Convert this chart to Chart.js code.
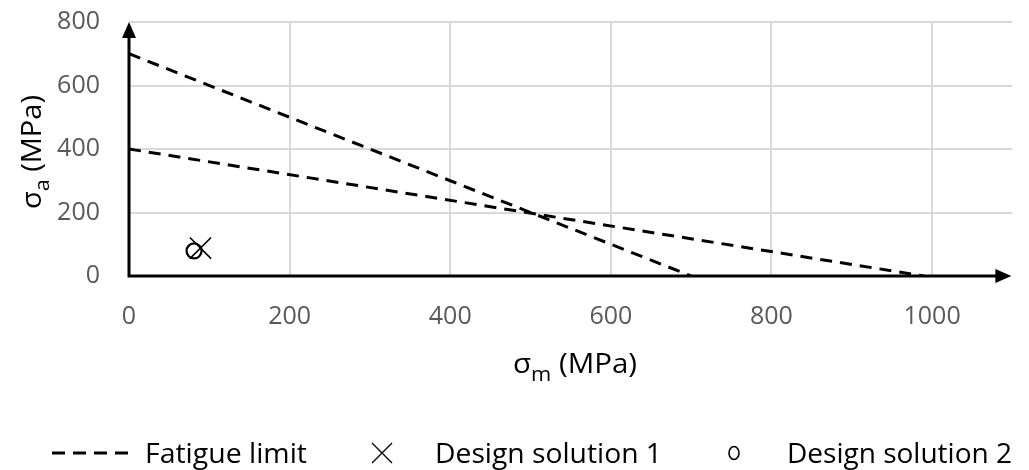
<!DOCTYPE html>
<html>
<head>
<meta charset="utf-8">
<script src="https://cdn.jsdelivr.net/npm/chart.js@4/dist/chart.umd.min.js"></script>
<style>
  html, body { margin: 0; padding: 0; background: #fff; }
  #wrap { width: 1029px; height: 470px; }
</style>
</head>
<body>
<div id="wrap"><canvas id="chart" width="1029" height="470"></canvas></div>
<script>
// tick labels
var X_TICKS = [0, 200, 400, 600, 800, 1000];
var Y_TICKS = [0, 200, 400, 600, 800];

// fatigue limit lines (sigma_m, sigma_a)
var LIMIT1_X = [0, 700];
var LIMIT1_Y = [700, 0];
var LIMIT2_X = [0, 990];
var LIMIT2_Y = [400, 0];

// design points
var SOL1_X = [89];
var SOL1_Y = [88];
var SOL2_X = [81];
var SOL2_Y = [79];

var FONT = '"Open Sans", sans-serif';
var GREY = '#595959';

function toPoints(xs, ys) {
    var pts = [];
    for (var i = 0; i < xs.length; i++) {
        pts.push({ x: xs[i], y: ys[i] });
    }
    return pts;
}

// testo composto (pezzi con font diversi) stirato fino a una larghezza data
function fitText(ctx, parts, x, y, targetW) {
    var total = 0;
    parts.forEach(function (p) {
        ctx.font = p.size + 'px ' + FONT;
        p.w = ctx.measureText(p.text).width;
        total += p.w;
    });
    ctx.save();
    ctx.translate(x, y);
    ctx.scale(targetW / total, 1);
    ctx.textAlign = 'left';
    ctx.textBaseline = 'alphabetic';
    var cx = 0;
    parts.forEach(function (p) {
        ctx.font = p.size + 'px ' + FONT;
        ctx.fillText(p.text, cx, p.dy || 0);
        cx += p.w;
    });
    ctx.restore();
}

//disegno assi con frecce, titoli e legenda
var extrasPlugin = {
    id: 'extras',
    beforeDatasetsDraw: function (chart) {
        var ctx = chart.ctx;
        var xs = chart.scales.x, ys = chart.scales.y;
        var x0 = xs.getPixelForValue(0);
        var y0 = ys.getPixelForValue(0);
        var xEnd = xs.getPixelForValue(1100) - 1;
        var yTop = ys.getPixelForValue(800);
        ctx.save();
        ctx.strokeStyle = '#000';
        ctx.fillStyle = '#000';
        ctx.lineWidth = 3;
        ctx.beginPath();
        ctx.moveTo(x0 - 1.5, y0);
        ctx.lineTo(xEnd - 10, y0);
        ctx.moveTo(x0, y0 + 1.5);
        ctx.lineTo(x0, yTop + 10);
        ctx.stroke();
        // punte delle frecce
        ctx.beginPath();
        ctx.moveTo(xEnd, y0);
        ctx.lineTo(xEnd - 16, y0 - 7);
        ctx.lineTo(xEnd - 16, y0 + 7);
        ctx.closePath();
        ctx.fill();
        ctx.beginPath();
        ctx.moveTo(x0, yTop);
        ctx.lineTo(x0 - 7, yTop + 16);
        ctx.lineTo(x0 + 7, yTop + 16);
        ctx.closePath();
        ctx.fill();
        ctx.restore();
    },
    afterDraw: function (chart) {
        var ctx = chart.ctx;
        ctx.save();
        ctx.fillStyle = '#000';

        // titolo asse x
        fitText(ctx, [
            { text: 'σ', size: 27 },
            { text: 'm', size: 20, dy: 8 },
            { text: ' (MPa)', size: 27 }
        ], 513, 373, 124);

        // titolo asse y, ruotato
        ctx.save();
        ctx.translate(41, 209);
        ctx.rotate(-Math.PI / 2);
        fitText(ctx, [
            { text: 'σ', size: 27 },
            { text: 'a', size: 20, dy: 8 },
            { text: ' (MPa)', size: 27 }
        ], 0, 0, 114);
        ctx.restore();

        // legenda
        var ly = 453;
        ctx.strokeStyle = '#000';
        ctx.lineWidth = 3;
        ctx.setLineDash([13, 8]);
        ctx.beginPath();
        ctx.moveTo(52, ly);
        ctx.lineTo(128, ly);
        ctx.stroke();
        ctx.setLineDash([]);

        ctx.lineWidth = 1.3;
        ctx.beginPath();
        ctx.moveTo(372, ly - 10);
        ctx.lineTo(392, ly + 10);
        ctx.moveTo(392, ly - 10);
        ctx.lineTo(372, ly + 10);
        ctx.stroke();

        ctx.lineWidth = 1.6;
        ctx.beginPath();
        ctx.ellipse(734, ly, 5, 6.5, 0, 0, Math.PI * 2);
        ctx.stroke();

        fitText(ctx, [{ text: 'Fatigue limit', size: 28 }], 145, 463, 162);
        fitText(ctx, [{ text: 'Design solution 1', size: 28 }], 435, 463, 227);
        fitText(ctx, [{ text: 'Design solution 2', size: 28 }], 787, 463, 225);
        ctx.restore();
    }
};

var lineStyle = {
    borderColor: '#000',
    borderWidth: 3,
    borderDash: [12, 8],
    showLine: true,
    pointRadius: 0,
    fill: false
};

function noScalePadding(scale) {
    scale.paddingTop = 0;
    scale.paddingBottom = 0;
    scale.paddingLeft = 0;
    scale.paddingRight = 0;
}

var myChart = new Chart(document.getElementById('chart'), {
    type: 'scatter',
    data: {
        datasets: [
            Object.assign({ label: 'Fatigue limit', data: toPoints(LIMIT1_X, LIMIT1_Y) }, lineStyle),
            Object.assign({ label: 'Fatigue limit 2', data: toPoints(LIMIT2_X, LIMIT2_Y) }, lineStyle),
            {
                label: 'Design solution 1',
                data: toPoints(SOL1_X, SOL1_Y),
                pointStyle: 'crossRot',
                pointRadius: 15,
                borderColor: '#000',
                borderWidth: 1.6,
                backgroundColor: 'transparent'
            },
            {
                label: 'Design solution 2',
                data: toPoints(SOL2_X, SOL2_Y),
                pointStyle: 'circle',
                pointRadius: 7.5,
                borderColor: '#000',
                borderWidth: 2.2,
                backgroundColor: 'transparent'
            }
        ]
    },
    options: {
        responsive: false,
        animation: false,
        layout: { padding: { top: 22, right: 8, left: 0, bottom: 0 } },
        plugins: {
            legend: { display: false },
            tooltip: { enabled: false }
        },
        scales: {
            x: {
                type: 'linear',
                min: 0,
                max: 1100,
                afterBuildTicks: function (scale) {
                    scale.ticks = X_TICKS.map(function (v) { return { value: v }; });
                },
                afterFit: function (scale) {
                    scale.height = 194;
                    noScalePadding(scale);
                },
                border: { display: false },
                grid: {
                    color: function (c) { return c.tick && c.tick.value === 0 ? 'rgba(0,0,0,0)' : '#d9d9d9'; },
                    lineWidth: 2,
                    drawTicks: false
                },
                ticks: {
                    padding: 26,
                    color: GREY,
                    font: { family: FONT, size: 25 },
                    maxRotation: 0,
                    callback: function (v) { return String(v); }
                }
            },
            y: {
                type: 'linear',
                min: 0,
                max: 800,
                afterBuildTicks: function (scale) {
                    scale.ticks = Y_TICKS.map(function (v) { return { value: v }; });
                },
                afterFit: function (scale) {
                    scale.width = 129;
                    noScalePadding(scale);
                },
                border: { display: false },
                grid: {
                    color: function (c) { return c.tick && c.tick.value === 0 ? 'rgba(0,0,0,0)' : '#d9d9d9'; },
                    lineWidth: 2,
                    drawTicks: false
                },
                ticks: {
                    padding: 29,
                    color: GREY,
                    font: { family: FONT, size: 25 },
                    callback: function (v) { return String(v); }
                }
            }
        }
    },
    plugins: [extrasPlugin]
});
</script>
</body>
</html>
